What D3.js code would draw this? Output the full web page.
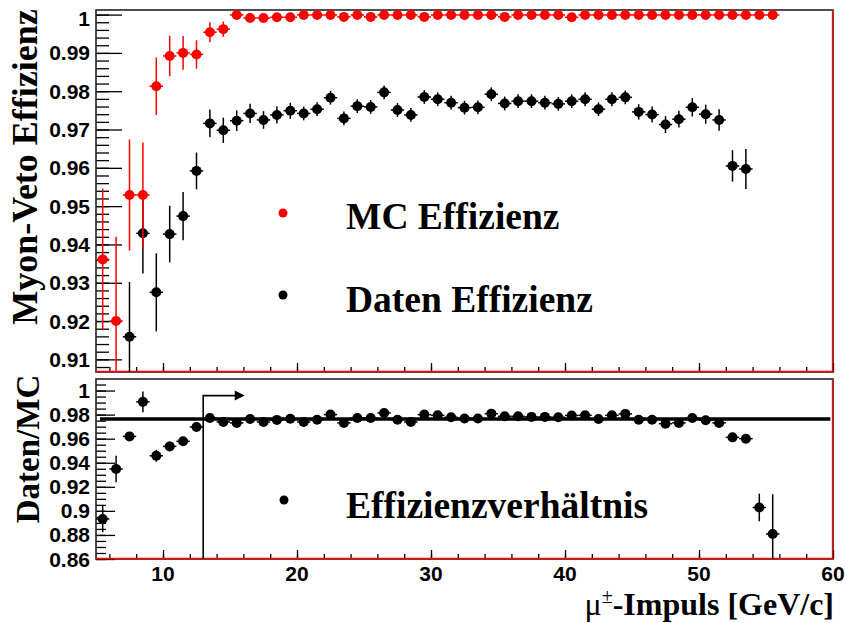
<!DOCTYPE html>
<html>
<head>
<meta charset="utf-8">
<script src="https://cdn.jsdelivr.net/npm/d3@7"></script>
<style>
body{margin:0;background:#fff;}
svg{display:block;}
.tl{font-family:"Liberation Sans",Arial,sans-serif;font-weight:bold;font-size:21px;fill:#000;}
.ti{font-family:"Liberation Serif","Times New Roman",serif;font-weight:bold;fill:#000;}
.ax path{display:none;}
.ax line{stroke:#000;stroke-width:1.3;}
</style>
</head>
<body>
<script>
'use strict';

// bin centres of the momentum histogram [GeV/c]
var momentum=[5.5,6.5,7.5,8.5,9.5,10.5,11.5,12.5,13.5,14.5,15.5,16.5,17.5,18.5,19.5,
    20.5,21.5,22.5,23.5,24.5,25.5,26.5,27.5,28.5,29.5,30.5,31.5,32.5,33.5,34.5,
    35.5,36.5,37.5,38.5,39.5,40.5,41.5,42.5,43.5,44.5,45.5,46.5,47.5,48.5,49.5,
    50.5,51.5,52.5,53.5,54.5,55.5];

var mcEff=[0.9361,0.9200,0.9529,0.9529,0.9813,0.9892,0.9900,0.9896,0.9954,0.9962,
    0.9999,0.9991,0.9991,0.9993,0.9993,0.9999,0.9999,0.9999,0.9994,0.9999,
    0.9994,0.9999,0.9999,0.9999,0.9994,0.9999,0.9999,0.9999,0.9999,0.9999,
    0.9994,0.9999,0.9999,0.9999,0.9999,0.9993,0.9999,0.9999,0.9999,0.9999,
    0.9999,0.9999,0.9999,0.9999,0.9999,0.9999,0.9999,0.9999,0.9999,0.9999,0.9999];
var mcErr=[0.0185,0.022,0.0145,0.0137,0.0075,0.0053,0.0044,0.0037,0.0026,0.0020,
    0.0006,0.0006,0.0006,0.0006,0.0006,0.0006,0.0006,0.0006,0.0006,0.0006,
    0.0006,0.0006,0.0006,0.0006,0.0006,0.0006,0.0006,0.0006,0.0006,0.0006,
    0.0006,0.0006,0.0006,0.0006,0.0006,0.0006,0.0006,0.0006,0.0006,0.0006,
    0.0006,0.0006,0.0006,0.0006,0.0006,0.0006,0.0006,0.0006,0.0006,0.0006,0.0006];

// data points outside the frame are null
var dataEff=[null,null,0.9159,0.9429,0.9275,0.9427,0.9474,0.9592,0.9716,0.9698,
    0.9723,0.9742,0.9725,0.9738,0.9749,0.9742,0.9753,0.9783,0.9729,0.9761,
    0.9759,0.9797,0.9751,0.9738,0.9785,0.9779,0.9770,0.9757,0.9758,0.9792,
    0.9768,0.9774,0.9774,0.9770,0.9767,0.9774,0.9779,0.9753,0.9779,0.9784,
    0.9746,0.9739,0.9713,0.9727,0.9758,0.9740,0.9725,0.9605,0.9597,null,null];
var dataErr=[0,0,0.0143,0.0105,0.0102,0.0074,0.0063,0.0048,0.0036,0.0033,
    0.0027,0.0025,0.0023,0.0022,0.0021,0.0018,0.0018,0.0018,0.0018,0.0018,
    0.0018,0.0018,0.0018,0.0018,0.0018,0.0018,0.0018,0.0018,0.0018,0.0018,
    0.0018,0.0018,0.0018,0.0018,0.0018,0.0018,0.0018,0.0018,0.0018,0.0018,
    0.0020,0.0021,0.0022,0.0022,0.0024,0.0025,0.0028,0.0041,0.0052,0,0];

var ratio=[0.8933,0.9348,0.9619,0.9906,0.9458,0.9536,0.9578,0.9697,0.9772,0.9739,
    0.9731,0.9764,0.9739,0.9756,0.9766,0.9739,0.9758,0.9800,0.9731,0.9772,
    0.9772,0.9814,0.9758,0.9739,0.9800,0.9794,0.9778,0.9767,0.9767,0.9808,
    0.9786,0.9786,0.9781,0.9781,0.9778,0.9793,0.9794,0.9764,0.9794,0.9806,
    0.9758,0.9758,0.9725,0.9731,0.9772,0.9753,0.9731,0.9611,0.9600,0.9028,0.8808];
var ratioErr=[0.011,0.011,0.003,0.0086,0.005,0.004,0.003,0.003,0.002,0.002,
    0.002,0.002,0.002,0.002,0.002,0.002,0.002,0.002,0.002,0.002,
    0.002,0.002,0.002,0.002,0.002,0.002,0.002,0.002,0.002,0.002,
    0.002,0.002,0.002,0.002,0.002,0.002,0.002,0.002,0.002,0.002,
    0.002,0.002,0.002,0.002,0.002,0.002,0.002,0.003,0.003,0.0115,0.033];

var fitValue=0.9764
  , fitRange=[5.3,59.8]
  , cutMomentum=13
  , cutArrowEnd=16.1
  , xTicks=[10,20,30,40,50,60]
  , topTicks=[0.91,0.92,0.93,0.94,0.95,0.96,0.97,0.98,0.99,1]
  , topLabels=['0.91','0.92','0.93','0.94','0.95','0.96','0.97','0.98','0.99','1']
  , botTicks=[0.86,0.88,0.9,0.92,0.94,0.96,0.98,1]
  , botLabels=['0.86','0.88','0.9','0.92','0.94','0.96','0.98','1'];

var L=96, R=833
  , padT={y0:10,y1:372}
  , padB={y0:379,y1:559}

var svg=d3.select('body').append('svg')
    .attr('width',846)
    .attr('height',623);

var x=d3.scaleLinear().domain([5,60]).range([L,R])
  , yT=d3.scaleLinear().domain([0.9067,1.0012]).range([padT.y1,padT.y0])
  , yB=d3.scaleLinear().domain([0.86,1.0096]).range([padB.y1,padB.y0])

function clip(id,p){
    svg.append('clipPath').attr('id',id)
        .append('rect')
        .attr('x',L).attr('y',p.y0)
        .attr('width',R-L).attr('height',p.y1-p.y0);
}
clip('cT',padT);
clip('cB',padB);

function frame(p,yScale,major,minor,labels,majLen,minLen){
    // y ticks, pointing into the frame
    svg.append('g').attr('class','ax')
        .attr('transform','translate('+L+',0)')
        .call(d3.axisRight(yScale).tickValues(minor).tickSize(minLen).tickFormat(''));
    svg.append('g').attr('class','ax')
        .attr('transform','translate('+L+',0)')
        .call(d3.axisRight(yScale).tickValues(major).tickSize(majLen).tickFormat(''));
    // x ticks
    svg.append('g').attr('class','ax')
        .attr('transform','translate(0,'+p.y1+')')
        .call(d3.axisTop(x).tickValues(d3.range(6,60,2)).tickSize(5).tickFormat(''));
    svg.append('g').attr('class','ax')
        .attr('transform','translate(0,'+p.y1+')')
        .call(d3.axisTop(x).tickValues(xTicks).tickSize(9).tickFormat(''));

    svg.append('rect')
        .attr('x',L).attr('y',p.y0)
        .attr('width',R-L).attr('height',p.y1-p.y0)
        .attr('fill','none')
        .attr('stroke','#222')
        .attr('stroke-width',1.6);
    svg.append('path')
        .attr('d',['M',L,p.y1-0.5,'L',R-0.5,p.y1-0.5,'L',R-0.5,p.y0].join(' '))
        .attr('fill','none')
        .attr('stroke','#f00')
        .attr('stroke-width',1.3);

    svg.selectAll(null).data(major).enter().append('text')
        .attr('class','tl')
        .attr('x',L-6)
        .attr('y',function(d,i){ return yScale(d)+(p===padT&&i==major.length-1?4:0); })
        .attr('dy','0.36em')
        .attr('text-anchor','end')
        .text(function(d,i){ return labels[i]; });
}

frame(padT,yT,topTicks,d3.range(0.908,1.0011,0.002),topLabels,26,13);
frame(padB,yB,botTicks,d3.range(0.86,1.0096,0.005),botLabels,19,10);

function points(id,yScale,vals,errs,col){
    var g=svg.append('g').attr('clip-path','url(#'+id+')')
      , pts=momentum.map(function(m,i){ return {m:m,v:vals[i],e:errs[i]}; })
            .filter(function(d){
                return d.v!=null&&d.v>=yScale.domain()[0]&&d.v<=yScale.domain()[1];
            })

    g.selectAll(null).data(pts).enter().append('line')
        .attr('x1',function(d){ return x(d.m-0.5); })
        .attr('x2',function(d){ return x(d.m+0.5); })
        .attr('y1',function(d){ return yScale(d.v); })
        .attr('y2',function(d){ return yScale(d.v); })
        .attr('stroke',col).attr('stroke-width',1.5);
    g.selectAll(null).data(pts).enter().append('line')
        .attr('x1',function(d){ return x(d.m); })
        .attr('x2',function(d){ return x(d.m); })
        .attr('y1',function(d){ return yScale(d.v-d.e); })
        .attr('y2',function(d){ return yScale(d.v+d.e); })
        .attr('stroke',col).attr('stroke-width',1.5);
    g.selectAll(null).data(pts).enter().append('circle')
        .attr('cx',function(d){ return x(d.m); })
        .attr('cy',function(d){ return yScale(d.v); })
        .attr('r',5)
        .attr('fill',col);
}

points('cT',yT,dataEff,dataErr,'#000');
points('cT',yT,mcEff,mcErr,'#f00');
points('cB',yB,ratio,ratioErr,'#000');

// constant fit and cut marker in the ratio pad
svg.append('line')
    .attr('x1',x(fitRange[0])).attr('x2',x(fitRange[1]))
    .attr('y1',yB(fitValue)).attr('y2',yB(fitValue))
    .attr('stroke','#000').attr('stroke-width',3.5);
svg.append('path')
    .attr('d',['M',x(cutMomentum),padB.y1,'L',x(cutMomentum),yB(0.9958),'L',x(cutArrowEnd)-9,yB(0.9958)].join(' '))
    .attr('fill','none').attr('stroke','#000').attr('stroke-width',1.6);
svg.append('path')
    .attr('d',['M',x(cutArrowEnd),yB(0.9958),'L',x(cutArrowEnd)-10,yB(0.9958)-5,'L',x(cutArrowEnd)-10,yB(0.9958)+5,'Z'].join(' '))
    .attr('fill','#000');

// legends
var legend=[
    {x:283,y:213,tx:346,ty:229,col:'#f00',t:'MC Effizienz'}
  , {x:283,y:295,tx:346,ty:312,col:'#000',t:'Daten Effizienz'}
  , {x:284,y:500,tx:346,ty:518,col:'#000',t:'Effizienzverhältnis'}
];
legend.forEach(function(l){
    svg.append('circle').attr('cx',l.x).attr('cy',l.y).attr('r',4.5).attr('fill',l.col);
    svg.append('text').attr('class','ti')
        .attr('x',l.tx).attr('y',l.ty)
        .style('font-size','37.5px')
        .text(l.t);
});

// axis titles
svg.append('text').attr('class','ti')
    .attr('transform','translate(37,167) rotate(-90)')
    .attr('text-anchor','middle')
    .style('font-size','36px')
    .text('Myon-Veto Effizienz');
svg.append('text').attr('class','ti')
    .attr('transform','translate(39,449) rotate(-90)')
    .attr('text-anchor','middle')
    .style('font-size','33px')
    .text('Daten/MC');

var xt=svg.append('text').attr('class','ti')
    .attr('x',834).attr('y',615)
    .attr('text-anchor','end')
    .style('font-size','32px');
xt.append('tspan').style('font-weight','normal').text('μ');
xt.append('tspan').attr('dy',-12).style('font-size','20px').style('font-weight','normal').text('±');
xt.append('tspan').attr('dy',12).text('-Impuls [GeV/c]');

svg.selectAll(null).data(xTicks).enter().append('text')
    .attr('class','tl')
    .attr('x',function(d){ return x(d); })
    .attr('y',581)
    .attr('text-anchor','middle')
    .text(function(d){ return d; });
</script>
</body>
</html>
